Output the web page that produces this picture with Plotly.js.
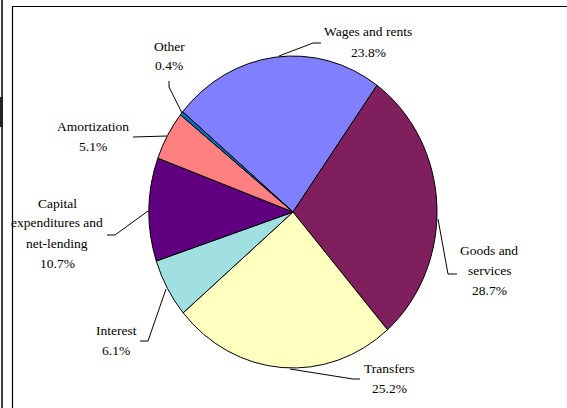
<!DOCTYPE html>
<html><head><meta charset="utf-8">
<script src="https://cdn.plot.ly/plotly-3.0.1.min.js"></script>
<style>html,body{margin:0;padding:0;background:#fff}#chart{width:567px;height:408px}</style>
</head><body><div id="chart"></div>
<script>
// ---- data ----
var categories = ["Wages and rents", "Goods and services", "Transfers", "Interest",
  "Capital expenditures and net-lending", "Amortization", "Other"];
var labelLines = [["Wages and rents"], ["Goods and", "services"], ["Transfers"], ["Interest"],
  ["Capital", "expenditures and", "net-lending"], ["Amortization"], ["Other"]];
var shares = [23.8, 28.7, 25.2, 6.1, 10.7, 5.1, 0.4];
var sliceColors = ["#8080FF", "#801F5E", "#FFFFC0", "#A0E0E0", "#600080", "#FF8080", "#0070C0"];

// ---- layout helpers (pixel positions -> paper) ----
var W = 567, H = 408;
function px(x){ return x / W; }
function py(y){ return 1 - y / H; }

var labelPos = [[368, 32], [489, 250], [389, 368], [116, 330], [57, 203], [93, 126], [169, 46]];
var leaders = [
  [[321,43],[313,43],[279,56]],
  [[457,274],[448,274],[438,219]],
  [[360,379],[353,379],[290,369]],
  [[140,341],[148,341],[166,289]],
  [[107,235],[115,235],[148,211]],
  [[133,137],[167,136]],
  [[169,81],[169,87],[182,113]]
];

var annotations = [];
categories.forEach(function(c, i){
  var lines = labelLines[i].concat([shares[i].toFixed(1) + "%"]);
  lines.forEach(function(t, k){
    annotations.push({
      text: t, xref: "paper", yref: "paper",
      x: px(labelPos[i][0]), y: py(labelPos[i][1] + 20 * k),
      xanchor: "center", yanchor: "middle", showarrow: false,
      font: {family: "'Liberation Serif', 'DejaVu Serif', serif", size: 13.5, color: "#000"}
    });
  });
});

var shapes = leaders.map(function(pts){
  return {type: "path", xref: "paper", yref: "paper",
    path: pts.map(function(p, k){ return (k ? "L" : "M") + px(p[0]) + "," + py(p[1]); }).join(" "),
    line: {color: "#000", width: 1}};
});
shapes.push({type: "rect", xref: "paper", yref: "paper", x0: px(12.5), x1: px(580), y0: py(6.5), y1: py(420),
  line: {color: "#000", width: 1.2}, fillcolor: "rgba(0,0,0,0)"});
shapes.push({type: "line", xref: "paper", yref: "paper", x0: px(2), x1: px(2), y0: 0, y1: 1,
  line: {color: "#000", width: 1.5}});
shapes.push({type: "rect", xref: "paper", yref: "paper", x0: px(0), x1: px(3), y0: py(97), y1: py(127),
  line: {width: 0}, fillcolor: "#222"});

var cx = 293, cy = 212, rx = 144, ry = 156;
var trace = {
  type: "pie", labels: categories, values: shares, sort: false,
  direction: "clockwise", rotation: 310,
  marker: {colors: sliceColors, line: {color: "#000", width: 1}},
  textinfo: "none", hoverinfo: "label+percent",
  domain: {x: [px(cx - rx), px(cx + rx)], y: [py(cy + rx), py(cy - rx)]}
};

Plotly.newPlot("chart", [trace], {
  width: W, height: H, margin: {l: 0, r: 0, t: 0, b: 0},
  showlegend: false, paper_bgcolor: "#fff",
  annotations: annotations, shapes: shapes
}, {staticPlot: true}).then(function(gd){
  var k = ry / rx;
  var g = gd.querySelectorAll(".pielayer .trace");
  g.forEach(function(el){
    el.setAttribute("transform", "translate(" + cx + "," + cy + ") scale(1," + k + ") translate(" + (-cx) + "," + (-cy) + ")");
    el.querySelectorAll("path").forEach(function(p){ p.setAttribute("vector-effect", "non-scaling-stroke"); });
  });
});
</script></body></html>
